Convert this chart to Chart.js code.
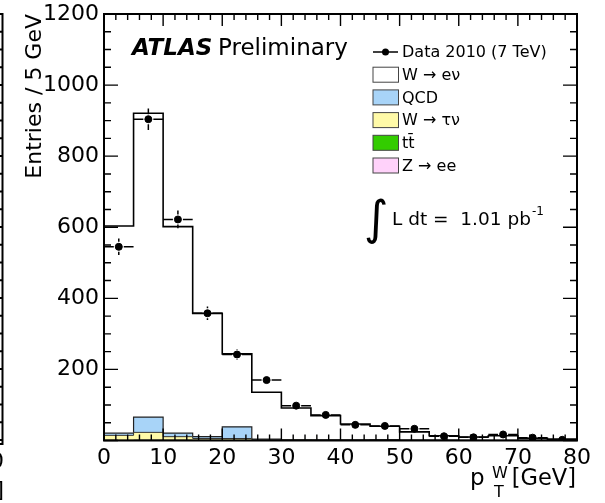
<!DOCTYPE html>
<html>
<head>
<meta charset="utf-8">
<script src="https://cdn.jsdelivr.net/npm/chart.js@4.4.1/dist/chart.umd.min.js"></script>
<style>
  html, body { margin: 0; padding: 0; background: #fff; }
</style>
</head>
<body>
<canvas id="chart" width="605" height="503"></canvas>
<script>
// bin edges of pT(W) in GeV
const binEdges = [0, 5, 10, 15, 20, 25, 30, 35, 40, 45, 50, 55, 60, 65, 70, 75, 80];

// Data 2010 (7 TeV) entries per bin
const dataCounts = [545, 904, 622, 358, 242, 170, 98, 72, 44, 41, 33, 12, 9, 17, 8, 2];

// stacked MC components, bottom to top
const zee   = [0.5, 0.8, 0.6, 0.4, 0.3, 0.2, 0.2, 0.1, 0.1, 0.1, 0.1, 0.1, 0, 0, 0, 0];
const ttbar = [0, 0.1, 0.2, 0.3, 0.3, 0.4, 0.4, 0.4, 0.3, 0.3, 0.3, 0.2, 0.2, 0.2, 0.1, 0.1];
const wtaunu = [14, 22, 10, 5, 5, 2, 1.5, 1, 0.8, 0.6, 0.5, 0.3, 0.3, 0.2, 0.1, 0.1];
const qcd   = [6, 43, 10, 5, 33, 1, 0.5, 0.5, 0.3, 1.5, 0.3, 0.2, 0.2, 0.2, 0.1, 0.1];
const wenu  = [583, 855, 581, 347, 205, 132, 89, 68, 45, 37.5, 23, 12.7, 9.3, 12.9, 5.7, 3.7];

// axis tick labels
const xTickValues = [0, 10, 20, 30, 40, 50, 60, 70, 80];
const yTickValues = [200, 400, 600, 800, 1000, 1200];

const FONT = "'DejaVu Sans', sans-serif";

// step outline: one point per left edge plus the last right edge
function stepPoints(values) {
  const pts = values.map((v, i) => ({ x: binEdges[i], y: v }));
  pts.push({ x: binEdges[values.length], y: values[values.length - 1] });
  return pts;
}

function mcSet(label, values, fillColor, lineColor, lineWidth, fill) {
  return {
    type: "line",
    label: label,
    data: stepPoints(values),
    stepped: true,
    stack: "mc",
    fill: fill,
    backgroundColor: fillColor,
    borderColor: lineColor,
    borderWidth: lineWidth,
    pointRadius: 0,
  };
}

const dataSet = {
  type: "line",
  label: "Data 2010 (7 TeV)",
  data: dataCounts.map((v, i) => ({ x: (binEdges[i] + binEdges[i + 1]) / 2, y: v })),
  stack: "data",
  showLine: false,
  pointRadius: 3.5,
  pointBackgroundColor: "#000",
  pointBorderColor: "#000",
  borderColor: "#000",
  backgroundColor: "#000",
};

// error bars on the data points (sqrt(N) vertically, bin width horizontally)
const errorBars = {
  id: "errorBars",
  afterDatasetsDraw(chart) {
    const { ctx, scales: { x, y } } = chart;
    const meta = chart.getDatasetMeta(0);
    const gap = 5;
    ctx.save();
    ctx.strokeStyle = "#000";
    ctx.lineWidth = 1.5;
    ctx.beginPath();
    meta.data.forEach((pt, i) => {
      const v = dataCounts[i];
      const err = Math.sqrt(v);
      const left = x.getPixelForValue(binEdges[i]);
      const right = x.getPixelForValue(binEdges[i + 1]);
      ctx.moveTo(left, pt.y); ctx.lineTo(pt.x - gap, pt.y);
      ctx.moveTo(pt.x + gap, pt.y); ctx.lineTo(right, pt.y);
      const top = y.getPixelForValue(v + err);
      const bot = y.getPixelForValue(Math.max(v - err, 0));
      if (pt.y - top > gap) { ctx.moveTo(pt.x, top); ctx.lineTo(pt.x, pt.y - gap); }
      if (bot - pt.y > gap) { ctx.moveTo(pt.x, pt.y + gap); ctx.lineTo(pt.x, bot); }
    });
    ctx.stroke();
    ctx.restore();
  },
};

// ROOT style frame with inside ticks on all four sides
const frame = {
  id: "frame",
  afterDraw(chart) {
    const { ctx, chartArea: a, scales: { x, y } } = chart;
    ctx.save();
    ctx.strokeStyle = "#000";
    ctx.lineWidth = 1.4;
    ctx.beginPath();
    for (let v = 0; v <= 80; v += 2) {
      const px = x.getPixelForValue(v);
      const len = v % 10 === 0 ? 12 : 6;
      ctx.moveTo(px, a.bottom); ctx.lineTo(px, a.bottom - len);
      ctx.moveTo(px, a.top); ctx.lineTo(px, a.top + len);
    }
    for (let v = 0; v <= 1200; v += 50) {
      const py = y.getPixelForValue(v);
      const len = v % 200 === 0 ? 14 : 7;
      ctx.moveTo(a.left, py); ctx.lineTo(a.left + len, py);
      ctx.moveTo(a.right, py); ctx.lineTo(a.right - len, py);
    }
    ctx.stroke();
    ctx.lineWidth = 2;
    ctx.strokeRect(a.left, a.top, a.width, a.height);

    // edge of the neighbouring panel, cut off at the left border
    ctx.beginPath();
    ctx.moveTo(2.5, 13); ctx.lineTo(2.5, 444);
    ctx.lineTo(0, 444);
    for (let py = 14; py < 444; py += 17.75) { ctx.moveTo(2.5, py); ctx.lineTo(0, py); }
    ctx.stroke();
    ctx.fillStyle = "#000";
    ctx.textAlign = "right";
    ctx.textBaseline = "alphabetic";
    ctx.font = "22px " + FONT;
    ctx.fillText("0", 4, 468);
    ctx.fillText("]", 4, 497);

    // ATLAS label
    ctx.textAlign = "left";
    ctx.font = "italic bold 23px " + FONT;
    ctx.fillText("ATLAS", 132, 55);
    ctx.font = "23px " + FONT;
    ctx.fillText("Preliminary", 218, 55);

    // luminosity
    ctx.font = "47px " + FONT;
    ctx.fillText("\u222B", 364, 234);
    ctx.font = "18.5px " + FONT;
    ctx.fillText("L dt =  1.01 pb", 392, 225);
    const w = ctx.measureText("L dt =  1.01 pb").width;
    ctx.font = "12px " + FONT;
    ctx.fillText("-1", 392 + w + 1, 215);

    // x axis title
    ctx.font = "23px " + FONT;
    ctx.fillText("p", 470, 485);
    ctx.font = "16px " + FONT;
    ctx.fillText("W", 492, 478);
    ctx.fillText("T", 494, 497);
    ctx.font = "22.5px " + FONT;
    ctx.textAlign = "right";
    ctx.fillText("[GeV]", 576, 485);

    // legend
    const rows = [0, 5, 4, 3, 2, 1];
    ctx.textAlign = "left";
    ctx.textBaseline = "middle";
    ctx.font = "16px " + FONT;
    rows.forEach((di, r) => {
      const ds = chart.data.datasets[di];
      const cy = 52 + r * 22.7;
      if (di === 0) {
        ctx.lineWidth = 1.5;
        ctx.beginPath(); ctx.moveTo(373, cy); ctx.lineTo(398, cy); ctx.stroke();
        ctx.beginPath(); ctx.arc(385.5, cy, 3.5, 0, Math.PI * 2); ctx.fill();
      } else {
        ctx.fillStyle = ds.backgroundColor;
        ctx.fillRect(373, cy - 7.5, 25.5, 15);
        ctx.lineWidth = 1;
        ctx.strokeStyle = "#444";
        ctx.strokeRect(373, cy - 7.5, 25.5, 15);
        ctx.strokeStyle = "#000";
      }
      ctx.fillStyle = "#000";
      ctx.fillText(ds.label, 402, cy + 1);
    });
    ctx.restore();
  },
};

const ctx = document.getElementById("chart").getContext("2d");
const chart = new Chart(ctx, {
  data: {
    datasets: [
      dataSet,
      mcSet("Z \u2192 ee", zee, "#ffd2fa", "#333", 1, "origin"),
      mcSet("tt\u0304", ttbar, "#33cc00", "#333", 1, "-1"),
      mcSet("W \u2192 \u03C4\u03BD", wtaunu, "#fffaa8", "#333", 1, "-1"),
      mcSet("QCD", qcd, "#a8d4f8", "#222", 1.2, "-1"),
      mcSet("W \u2192 e\u03BD", wenu, "#ffffff", "#000", 1.6, "-1"),
    ],
  },
  options: {
    responsive: false,
    animation: false,
    devicePixelRatio: 1,
    layout: { padding: { top: 14, right: 28, left: 0, bottom: 0 } },
    plugins: { legend: { display: false }, tooltip: { enabled: false } },
    scales: {
      x: {
        type: "linear",
        min: 0,
        max: 80,
        grid: { display: false, drawTicks: false },
        border: { display: false },
        afterBuildTicks: (s) => { s.ticks = xTickValues.map((v) => ({ value: v })); },
        afterFit: (s) => { s.height = 62.5; s.paddingLeft = 0; s.paddingRight = 0; },
        ticks: { color: "#000", font: { family: FONT, size: 22 }, padding: 5, maxRotation: 0, autoSkip: false,
          callback: (v) => String(v) },
      },
      y: {
        type: "linear",
        stacked: true,
        min: 0,
        max: 1200,
        grid: { display: false, drawTicks: false },
        border: { display: false },
        afterBuildTicks: (s) => { s.ticks = yTickValues.map((v) => ({ value: v })); },
        afterFit: (s) => { s.width = 104; s.paddingTop = 0; s.paddingBottom = 0; },
        ticks: { color: "#000", font: { family: FONT, size: 22 }, padding: 5,
          callback: (v) => String(v) },
        title: {
          display: true,
          text: "Entries / 5 GeV",
          align: "end",
          color: "#000",
          font: { family: FONT, size: 22 },
          padding: { top: 22, bottom: 0 },
        },
      },
    },
  },
  plugins: [errorBars, frame],
});
</script>
</body>
</html>
